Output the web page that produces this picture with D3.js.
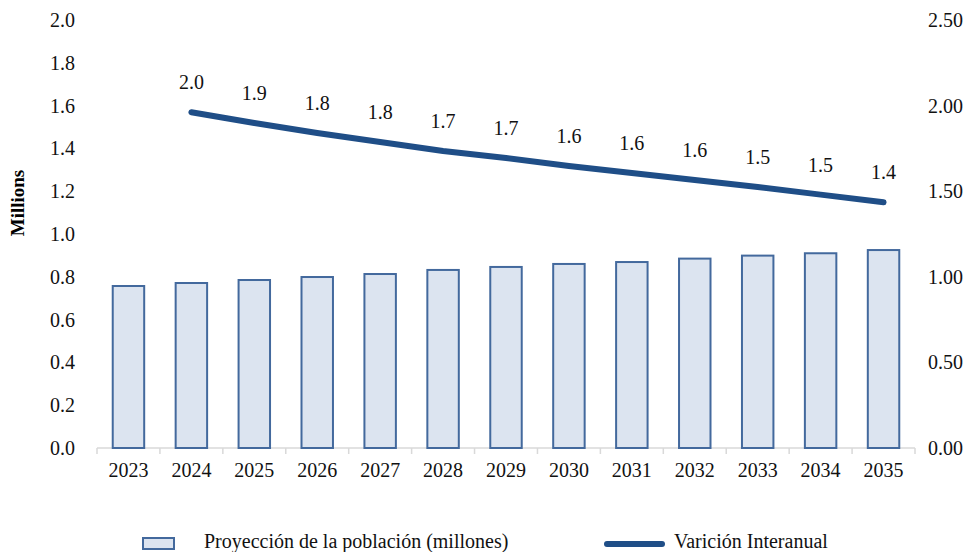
<!DOCTYPE html>
<html>
<head>
<meta charset="utf-8">
<script src="https://cdn.jsdelivr.net/npm/d3@7"></script>
<style>
  body { margin: 0; background: #fff; }
  svg { display: block; font-family: "Liberation Serif", serif; }
</style>
</head>
<body>
<script>
var years = ["2023","2024","2025","2026","2027","2028","2029","2030","2031","2032","2033","2034","2035"];
// poblacion proyectada (millones)
var poblacion = [0.757, 0.771, 0.785, 0.799, 0.813, 0.832, 0.846, 0.860, 0.869, 0.885, 0.899, 0.910, 0.925];
// variacion interanual (%), sin dato para 2023
var varYears = ["2024","2025","2026","2027","2028","2029","2030","2031","2032","2033","2034","2035"];
var variacion = [1.961, 1.898, 1.840, 1.787, 1.735, 1.694, 1.647, 1.606, 1.565, 1.525, 1.480, 1.435];
var leftTicks = [0, 0.2, 0.4, 0.6, 0.8, 1.0, 1.2, 1.4, 1.6, 1.8, 2.0];
var rightTicks = [0, 0.5, 1.0, 1.5, 2.0, 2.5];

var width = 970, height = 552;
var margin = {top: 20, right: 55, bottom: 104, left: 97};

var svg = d3.select("body").append("svg")
    .attr("width", width)
    .attr("height", height);

var x = d3.scaleBand()
    .domain(years)
    .range([margin.left, width - margin.right])
    .paddingInner(0.5)
    .paddingOuter(0.25);

var yL = d3.scaleLinear().domain([0, 2]).range([height - margin.bottom, margin.top]);
var yR = d3.scaleLinear().domain([0, 2.5]).range([height - margin.bottom, margin.top]);

// eje x: linea gris y marcas entre categorias
var axisY = yL(0);
svg.append("line")
    .attr("x1", margin.left).attr("x2", width - margin.right)
    .attr("y1", axisY).attr("y2", axisY)
    .attr("stroke", "#d9d9d9").attr("stroke-width", 1.5);

var edges = d3.range(years.length + 1).map(function(i) { return margin.left + i * x.step(); });
svg.selectAll(".tk").data(edges).enter().append("line")
    .attr("x1", function(d) { return d; }).attr("x2", function(d) { return d; })
    .attr("y1", axisY).attr("y2", axisY + 6)
    .attr("stroke", "#d9d9d9").attr("stroke-width", 1.5);

svg.selectAll(".xl").data(years).enter().append("text")
    .attr("x", function(d) { return x(d) + x.bandwidth() / 2; })
    .attr("y", axisY + 29)
    .attr("text-anchor", "middle")
    .attr("font-size", 20)
    .attr("fill", "#111")
    .text(function(d) { return d; });

// ejes y
svg.selectAll(".yl").data(leftTicks).enter().append("text")
    .attr("x", 75)
    .attr("y", function(d) { return yL(d); })
    .attr("dy", "0.35em")
    .attr("text-anchor", "end")
    .attr("font-size", 20)
    .attr("fill", "#111")
    .text(d3.format(".1f"));

svg.selectAll(".yr").data(rightTicks).enter().append("text")
    .attr("x", 928)
    .attr("y", function(d) { return yR(d); })
    .attr("dy", "0.35em")
    .attr("text-anchor", "start")
    .attr("font-size", 20)
    .attr("fill", "#111")
    .text(d3.format(".2f"));

svg.append("text")
    .attr("transform", "translate(24,203) rotate(-90)")
    .attr("text-anchor", "middle")
    .attr("font-size", 19)
    .attr("font-weight", "bold")
    .attr("fill", "#000")
    .text("Millions");

// barras
svg.selectAll(".bar").data(poblacion).enter().append("rect")
    .attr("x", function(d, i) { return x(years[i]); })
    .attr("y", function(d) { return yL(d); })
    .attr("width", x.bandwidth())
    .attr("height", function(d) { return yL(0) - yL(d); })
    .attr("fill", "#dce4f0")
    .attr("stroke", "#43699d")
    .attr("stroke-width", 2);

// linea
var line = d3.line()
    .x(function(d, i) { return x(varYears[i]) + x.bandwidth() / 2; })
    .y(function(d) { return yR(d); });

svg.append("path")
    .datum(variacion)
    .attr("d", line)
    .attr("fill", "none")
    .attr("stroke", "#1f4e87")
    .attr("stroke-width", 6)
    .attr("stroke-linecap", "round")
    .attr("stroke-linejoin", "round");

svg.selectAll(".lbl").data(variacion).enter().append("text")
    .attr("x", function(d, i) { return x(varYears[i]) + x.bandwidth() / 2; })
    .attr("y", function(d) { return yR(d) - 30; })
    .attr("dy", "0.35em")
    .attr("text-anchor", "middle")
    .attr("font-size", 20)
    .attr("fill", "#111")
    .text(d3.format(".1f"));

// leyenda
var lg = svg.append("g");
lg.append("rect")
    .attr("x", 143).attr("y", 538).attr("width", 31).attr("height", 11)
    .attr("fill", "#dce4f0").attr("stroke", "#43699d").attr("stroke-width", 2);
lg.append("text")
    .attr("x", 204).attr("y", 541).attr("dy", "0.35em")
    .attr("font-size", 20).attr("fill", "#111")
    .text("Proyección de la población (millones)");
lg.append("line")
    .attr("x1", 607).attr("x2", 662).attr("y1", 544).attr("y2", 544)
    .attr("stroke", "#1f4e87").attr("stroke-width", 6).attr("stroke-linecap", "round");
lg.append("text")
    .attr("x", 674).attr("y", 541).attr("dy", "0.35em")
    .attr("font-size", 20).attr("fill", "#111")
    .text("Varición Interanual");
</script>
</body>
</html>
